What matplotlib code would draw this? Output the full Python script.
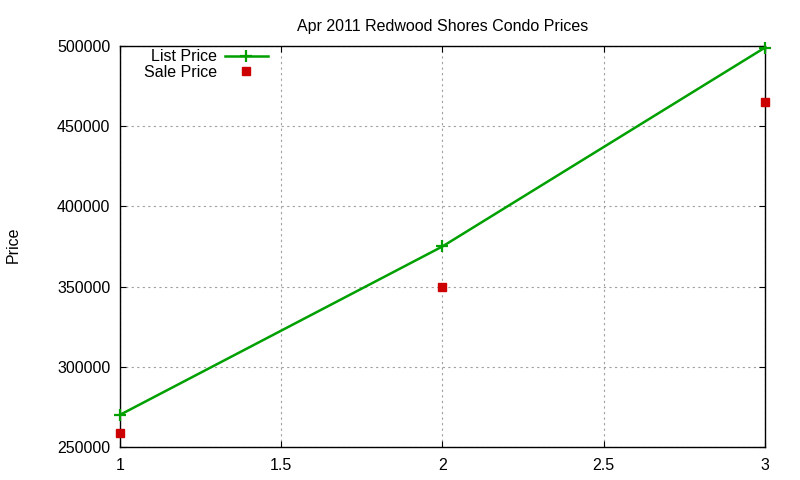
import matplotlib
matplotlib.use("Agg")
import matplotlib.pyplot as plt

# data
listings = [1, 2, 3]
list_price = [270000, 375000, 499000]
sale_price = [258500, 350000, 465000]

x_ticks = [1, 1.5, 2, 2.5, 3]
y_ticks = [250000, 300000, 350000, 400000, 450000, 500000]

plt.rcParams.update({"font.family": ["Liberation Sans", "DejaVu Sans"],
                     "font.size": 11.5})

fig = plt.figure(figsize=(8, 4.8), dpi=100)
ax = fig.add_axes([0.15, 0.069, 0.806, 0.835])

ax.plot(listings, list_price, color="#00a000", lw=1.8, marker="+",
        ms=8, mew=1.6, label="List Price", zorder=3, clip_on=False)
ax.plot(listings, sale_price, ls="none", color="#cc0000", marker="s",
        ms=6, label="Sale Price", zorder=3, clip_on=False)

ax.set_xlim(1, 3)
ax.set_ylim(250000, 500000)
ax.set_xticks(x_ticks)
ax.set_xticklabels(["1", "1.5", "2", "2.5", "3"])
ax.set_yticks(y_ticks)
ax.set_yticklabels([str(v) for v in y_ticks])
ax.tick_params(direction="in", length=4, width=0.8, top=True, right=True,
               labelsize=11.5)
ax.tick_params(axis="x", pad=8)
ax.tick_params(axis="y", pad=7)
ax.grid(True, color="#a0a0a0", ls=(0, (2, 3)), lw=0.8)
for s in ax.spines.values():
    s.set_linewidth(1.0)

ax.set_title("Apr 2011 Redwood Shores Condo Prices", fontsize=11.5, pad=11)
fig.text(0.016, 0.49, "Price", rotation=90, ha="center", va="center",
         fontsize=11.5)

leg = ax.legend(loc="upper right", bbox_to_anchor=(0.2295, 0.992), frameon=False,
                markerfirst=False, handlelength=2.7, handletextpad=0.5,
                labelspacing=0.05, borderaxespad=0.0, borderpad=0.0,
                fontsize=11.5)
for t in leg.get_texts():
    t.set_ha("right")

fig.savefig("out.png")
